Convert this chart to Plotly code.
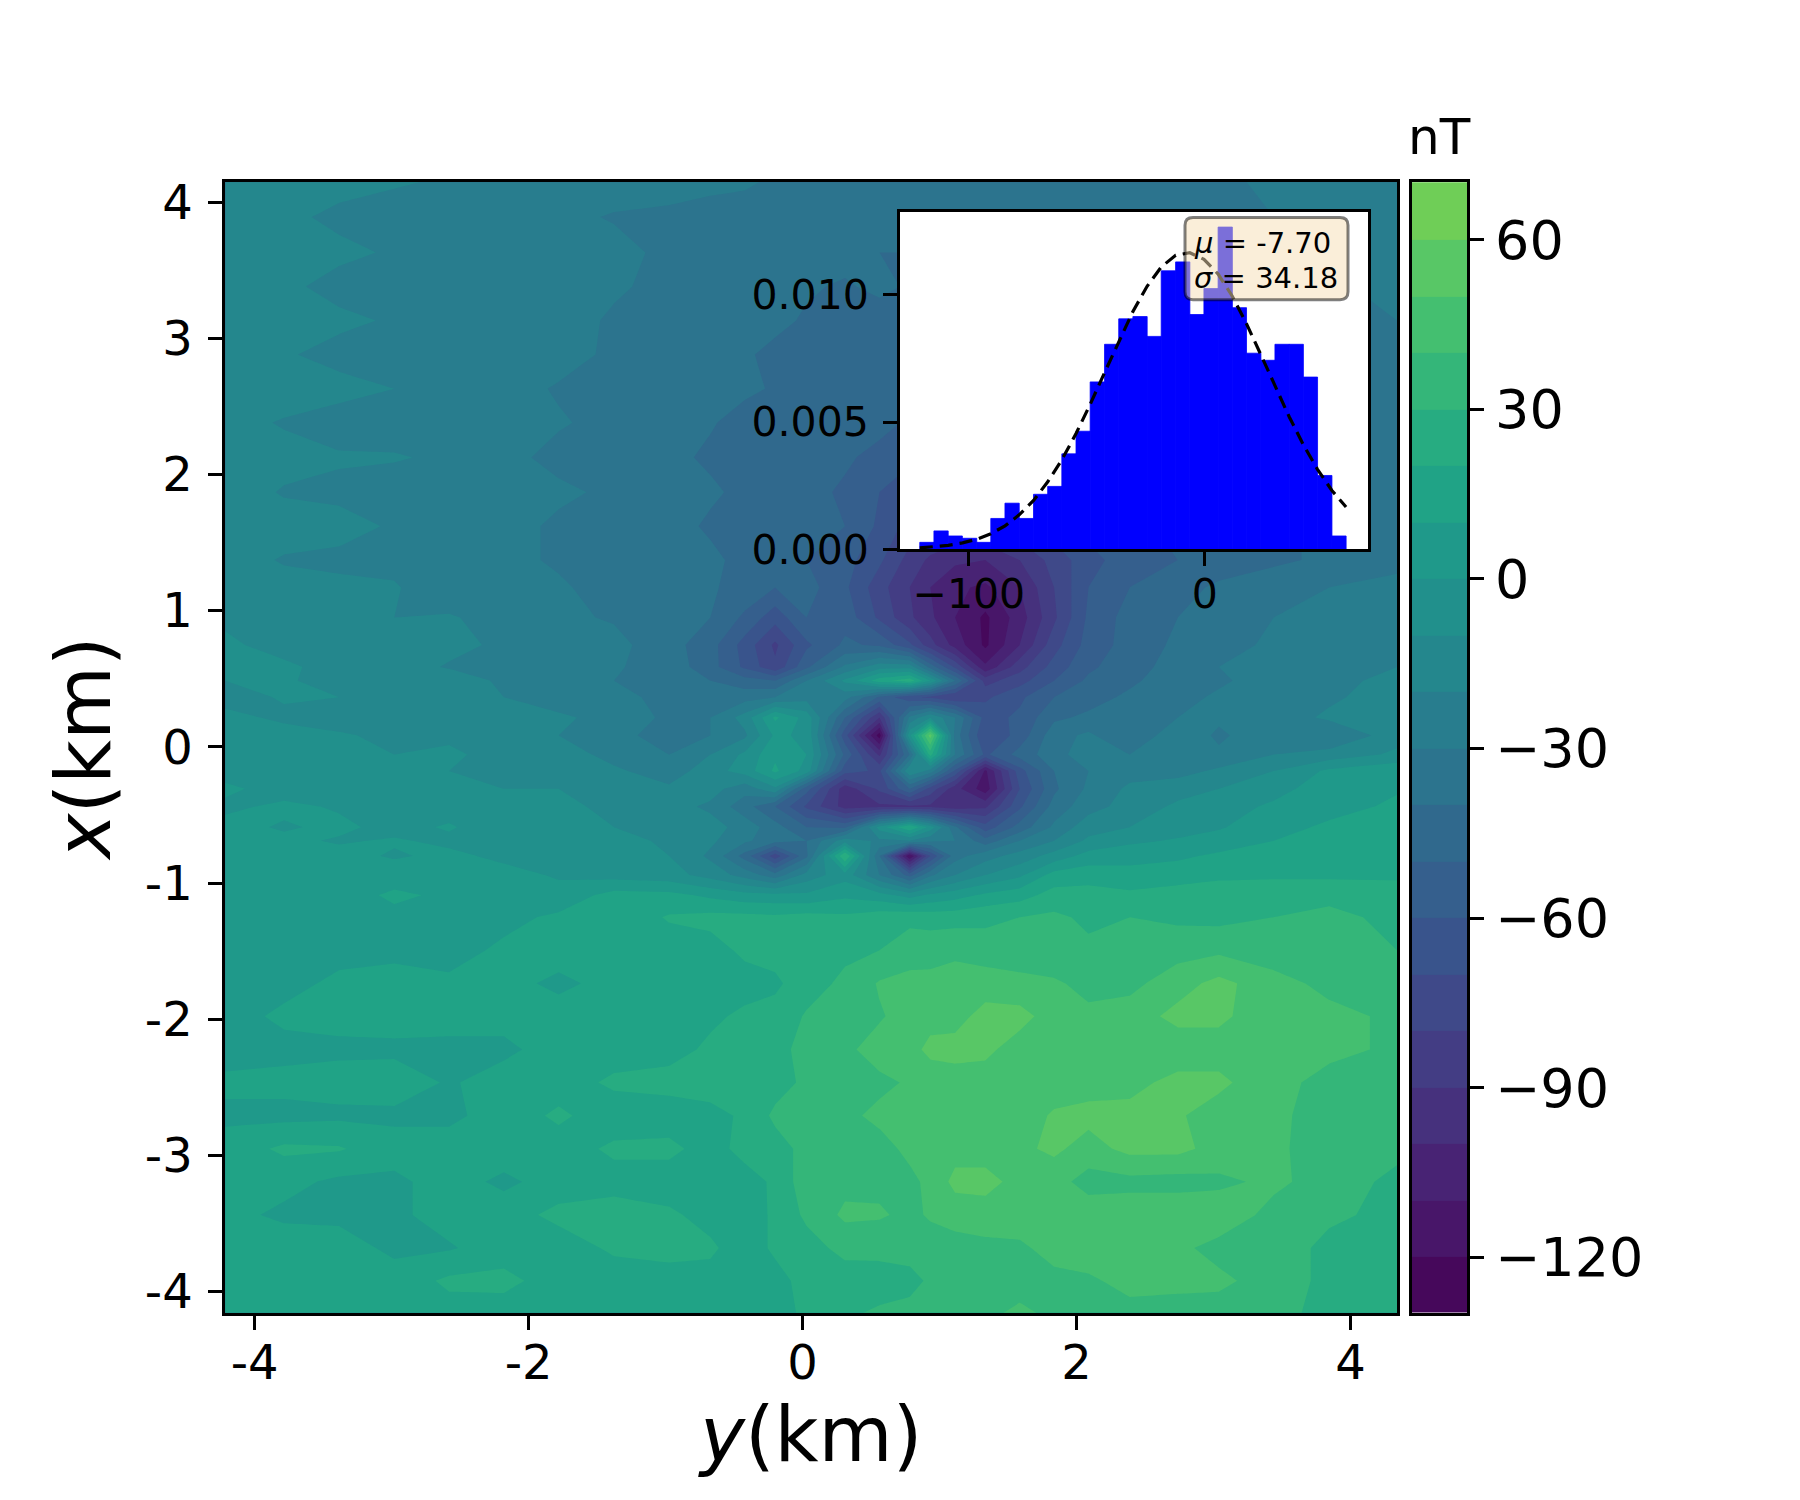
import numpy as np
import plotly.graph_objects as go

W, H = 1800, 1500
FONT = "DejaVu Sans"

# Map grid (km)
y_km = [-4.214,-3.785,-3.384,-2.98,-2.58,-2.18,-1.78,-1.376,-0.974,-0.673,-0.422,-0.2,0.03,0.31,0.562,0.783,0.933,1.114,1.335,1.586,1.837,2.088,2.389,2.74,3.04,3.44,3.845,4.34]
x_km = [4.15,3.89,3.63,3.38,3.13,2.88,2.63,2.38,2.125,1.87,1.62,1.371,1.17,0.949,0.748,0.587,0.486,0.365,0.215,0.084,-0.057,-0.177,-0.308,-0.439,-0.59,-0.69,-0.801,-0.942,-1.09,-1.251,-1.494,-1.737,-1.979,-2.223,-2.465,-2.708,-2.951,-3.193,-3.437,-3.68,-3.921,-4.16]
# Field in nT, one row per x_km value
field_nT = [
[-12,-13,-17,-19,-21,-22,-22,-24,-26,-28,-29,-31,-32,-33,-34,-36,-36,-35,-33,-32,-32,-31,-30,-32,-31,-29,-27,-26],
[-14,-18,-22,-24,-26,-28,-27,-31,-32,-33,-33,-34,-35,-36,-37,-38,-38,-38,-37,-37,-36,-35,-34,-33,-32,-30,-28,-27],
[-13,-16,-18,-21,-22,-24,-28,-26,-33,-34,-35,-36,-38,-37,-40,-40,-41,-42,-42,-41,-40,-39,-38,-36,-34,-32,-31,-29],
[-14,-18,-23,-25,-27,-28,-25,-29,-32,-33,-37,-38,-39,-41,-38,-41,-42,-44,-44,-43,-42,-40,-39,-37,-36,-33,-31,-28],
[-12,-15,-18,-21,-23,-24,-27,-31,-33,-34,-36,-38,-41,-42,-44,-44,-45,-46,-46,-45,-44,-42,-40,-39,-37,-34,-33,-30],
[-15,-19,-23,-24,-26,-27,-26,-32,-32,-37,-39,-42,-42,-46,-43,-46,-46,-48,-48,-47,-46,-44,-42,-40,-38,-36,-34,-31],
[-11,-14,-17,-20,-23,-26,-31,-30,-36,-36,-38,-41,-44,-43,-47,-48,-50,-52,-52,-50,-48,-46,-44,-42,-40,-37,-35,-32],
[-16,-21,-24,-26,-27,-29,-29,-33,-33,-39,-44,-45,-43,-50,-46,-52,-54,-56,-56,-54,-50,-48,-46,-44,-41,-38,-36,-33],
[-13,-16,-19,-19,-22,-27,-33,-33,-37,-42,-42,-42,-47,-48,-54,-58,-60,-60,-60,-58,-54,-50,-48,-45,-42,-39,-37,-34],
[-14,-21,-22,-26,-27,-29,-28,-32,-36,-38,-43,-46,-46,-52,-60,-66,-68,-68,-66,-62,-58,-54,-50,-46,-43,-40,-38,-35],
[-12,-15,-17,-21,-24,-26,-32,-35,-35,-42,-44,-46,-48,-50,-62,-74,-78,-80,-78,-72,-64,-56,-52,-48,-44,-41,-39,-36],
[-15,-21,-22,-23,-25,-28,-31,-32,-38,-37,-44,-47,-50,-56,-68,-84,-92,-98,-100,-90,-76,-64,-54,-50,-46,-42,-38,-34],
[-14,-16,-18,-19,-27,-26,-29,-33,-36,-39,-43,-50,-46,-58,-76,-90,-100,-108,-112,-100,-80,-60,-50,-44,-38,-34,-30,-26],
[-11,-13,-16,-20,-19,-24,-28,-31,-33,-40,-52,-66,-50,-54,-72,-88,-98,-110,-122,-105,-82,-58,-46,-40,-34,-30,-28,-24],
[-9,-12,-18,-14,-17,-22,-28,-27,-36,-46,-64,-82,-62,-48,-52,-68,-86,-104,-122,-100,-74,-56,-46,-38,-32,-29,-26,-22],
[-8,-9,-12,-15,-21,-21,-25,-29,-34,-46,-62,-78,-52,-28,-14,-14,-44,-72,-108,-84,-66,-52,-44,-36,-30,-26,-24,-20],
[-10,-8,-16,-16,-14,-22,-22,-30,-30,-40,-46,-50,-30,-8,16,26,0,-40,-84,-74,-60,-48,-42,-34,-32,-24,-22,-18],
[-14,-9,-10,-16,-18,-20,-26,-28,-32,-38,-34,-30,-24,-26,-52,-68,-72,-80,-72,-62,-50,-44,-38,-34,-28,-26,-22,-14],
[-7,-12,-14,-12,-14,-16,-18,-24,-32,-30,-16,12,-4,-50,-90,-28,-10,-30,-64,-58,-42,-38,-34,-30,-28,-26,-18,-18],
[-8,-6,-9,-12,-12,-18,-20,-24,-38,-30,-22,2,-2,-66,-125,-2,55,-34,-70,-56,-34,-28,-40,-22,-32,-22,-30,-14],
[-2,-8,-4,-10,-8,-14,-14,-24,-30,-20,-8,8,0,-52,-92,-40,24,-30,-62,-46,-34,-24,-30,-20,-28,-20,-16,-8],
[-4,-2,-7,-4,-10,-10,-18,-18,-26,-14,-6,12,-4,-66,-72,-10,-24,-62,-112,-64,-40,-30,-24,-24,-18,-10,2,8],
[2,-4,-2,-8,-6,-10,-10,-16,-18,-16,-26,-12,-56,-96,-78,-50,-74,-96,-116,-70,-42,-28,-18,-14,-10,-4,6,9],
[-2,2,-1,-6,-4,-8,-8,-12,-16,-22,-36,-50,-72,-94,-92,-92,-92,-96,-92,-62,-36,-24,-16,-8,-5,2,6,12],
[3,-1,2,-3,1,-6,-4,-10,-12,-16,-24,-36,-50,-52,-6,20,-4,-38,-66,-46,-28,-14,-10,-4,-1,6,12,14],
[1,2,-1,1,-2,-4,-6,-6,-12,-18,-28,-36,-40,-14,-22,-20,-28,-30,-46,-30,-20,-8,-2,1,4,10,13,15],
[4,1,3,-1,2,-2,-4,-8,-10,-22,-44,-76,-42,30,-40,-120,-70,-34,-24,-16,-6,4,6,8,12,14,15,16],
[2,5,2,5,1,3,-1,-4,-6,-14,-24,-36,-16,-4,-30,-54,-32,-20,-10,-2,14,16,14,16,17,18,18,18],
[6,7,5,12,8,6,3,14,13,8,4,3,2,8,4,-4,2,6,12,16,24,24,22,24,28,28,28,26],
[6,8,8,7,9,7,12,13,21,23,23,22,24,22,26,28,26,26,28,30,32,28,30,28,27,30,32,28],
[6,7,7,8,6,12,14,13,15,16,22,24,26,28,30,34,36,38,34,32,30,32,34,36,38,34,32,30],
[6,7,12,13,12,13,8,13,14,13,16,18,26,32,41,44,43,44,46,44,42,36,37,46,53,44,37,34],
[6,12,13,14,13,13,14,14,12,18,22,24,31,34,39,44,46,47,53,53,46,43,45,53,52,44,43,38],
[6,7,8,8,8,8,14,15,16,22,24,26,34,38,44,46,53,53,52,46,44,44,46,44,46,44,43,38],
[12,13,14,15,9,14,15,22,24,26,28,26,32,36,38,41,43,46,46,46,46,46,47,53,52,44,36,33],
[8,7,8,8,8,14,22,14,14,16,22,32,36,38,42,44,44,44,45,46,51,53,53,51,46,42,36,34],
[14,22,21,14,14,15,15,22,23,15,24,26,33,34,37,42,44,46,46,48,52,46,53,53,46,42,35,33],
[12,13,8,8,14,8,14,16,14,14,15,22,36,37,38,38,42,53,53,47,44,36,37,36,38,42,36,27],
[13,8,8,8,14,15,23,25,22,16,14,22,32,42,41,38,41,44,46,46,46,46,46,48,46,37,32,27],
[14,16,14,8,9,15,14,22,24,22,14,22,26,33,34,35,36,36,37,38,44,47,49,42,37,36,27,26],
[13,14,16,14,22,23,15,14,15,16,14,16,24,25,24,26,32,34,36,36,37,38,44,44,42,36,27,26],
[13,13,14,15,16,15,14,15,16,15,16,16,22,28,32,34,36,34,38,42,38,36,36,34,36,32,28,26],
]

# Tick labels
map_y_ticks = [-4,-2,0,2,4]
map_y_labels = ["-4","-2","0","2","4"]
map_x_ticks = [-4,-3,-2,-1,0,1,2,3,4]
map_x_labels = ["-4","-3","-2","-1","0","1","2","3","4"]
cbar_ticks = [-120,-90,-60,-30,0,30,60]
cbar_labels = ["\u2212120","\u221290","\u221260","\u221230","0","30","60"]
hist_y_ticks = [0,0.005,0.01]
hist_y_labels = ["0.000","0.005","0.010"]
hist_x_ticks = [-100,0]
hist_x_labels = ["\u2212100","0"]

# Histogram
hist_centers = [-117.8,-111.8,-105.8,-99.7,-93.7,-87.7,-81.7,-75.7,-69.6,-63.6,-57.6,-51.6,-45.6,-39.5,-33.5,-27.5,-21.5,-15.5,-9.4,-3.4,2.6,8.6,14.6,20.7,26.7,32.7,38.7,44.7,50.8,56.8]
hist_density = [0.00027,0.00072,0.00052,0.00043,0.00027,0.00121,0.00181,0.00121,0.00216,0.00247,0.00375,0.00464,0.00658,0.00806,0.00906,0.00915,0.00837,0.01095,0.0113,0.00923,0.01025,0.01267,0.0095,0.00771,0.00743,0.00806,0.00806,0.00677,0.0029,0.00052]
curve_x = [-120.8,-114.8,-108.8,-102.7,-96.7,-90.7,-84.7,-78.7,-72.6,-66.6,-60.6,-54.6,-48.6,-42.5,-36.5,-30.5,-24.5,-18.5,-12.4,-6.4,-0.4,5.6,11.6,17.6,23.7,29.7,35.7,41.7,47.7,53.8,59.8]
curve_y = [0.00005,0.00009,0.00015,0.00025,0.00039,0.00061,0.00092,0.00135,0.00192,0.00265,0.00352,0.00455,0.0057,0.00695,0.00818,0.00935,0.01034,0.0111,0.01156,0.01166,0.0114,0.01082,0.00995,0.00887,0.00765,0.00641,0.00521,0.00411,0.00314,0.00231,0.00166]

# Colour bands
band_edges = [-140,-120,-110,-100,-90,-80,-70,-60,-50,-40,-30,-20,-10,0,10,20,30,40,50,60,80]
band_mids = list(range(-125, 66, 10))
viridis20 = ["#440154","#481467","#482576","#453781","#404688","#39558c","#33638d","#2d718e","#287d8e","#238a8d","#1f968b","#20a386","#29af7f","#3dbc74","#56c667","#75d054","#95d840","#bade28","#dde318","#fde725"]
vrgb = np.array([[int(c[i:i+2], 16) for i in (1,3,5)] for c in viridis20], float)
def band_color(m):
    t = (m + 130) / 250 * 19
    rgb = [np.interp(t, np.arange(20), vrgb[:, k]) for k in range(3)]
    return "rgb(%d,%d,%d)" % tuple(round(v) for v in rgb)
cscale = [[(m + 125) / 190, band_color(m)] for m in band_mids]

def px(v): return v / W
def py(v): return 1 - v / H

axis_common = dict(showline=True, linecolor="black", linewidth=3, mirror=True, ticks="outside",
                   tickcolor="black", tickwidth=3, ticklen=14, showgrid=False, zeroline=False)

fig = go.Figure()
fig.add_trace(go.Contour(x=y_km, y=x_km[::-1], z=field_nT[::-1], xaxis="x", yaxis="y",
    colorscale=cscale, zmin=-125, zmax=65, autocontour=False, showscale=False,
    contours=dict(start=-120, end=60, size=10, coloring="fill", showlines=False),
    line=dict(width=0, smoothing=0), hoverinfo="skip"))
fig.add_trace(go.Bar(x=hist_centers, y=hist_density, width=6.05, xaxis="x2", yaxis="y2",
    marker=dict(color="#0000ff", line=dict(width=0.8, color="#0000ff")), showlegend=False))
fig.add_trace(go.Scatter(x=curve_x, y=curve_y, mode="lines", xaxis="x2", yaxis="y2",
    line=dict(color="black", width=3.2, dash="13px,7px"), showlegend=False))
fig.add_trace(go.Heatmap(x=[0, 1], y=band_edges, z=[[m] for m in band_mids], xaxis="x3", yaxis="y3",
    colorscale=cscale, zmin=-125, zmax=65, showscale=False, hoverinfo="skip"))

bx0, bx1, by0, by1, r = 1185, 1348, 214, 298, 8
box = (f"M {px(bx0+r)} {py(by0)} L {px(bx1-r)} {py(by0)} Q {px(bx1)} {py(by0)} {px(bx1)} {py(by0+r)} "
       f"L {px(bx1)} {py(by1-r)} Q {px(bx1)} {py(by1)} {px(bx1-r)} {py(by1)} L {px(bx0+r)} {py(by1)} "
       f"Q {px(bx0)} {py(by1)} {px(bx0)} {py(by1-r)} L {px(bx0)} {py(by0+r)} Q {px(bx0)} {py(by0)} {px(bx0+r)} {py(by0)} Z")

fig.update_layout(
    width=W, height=H, margin=dict(l=0, r=0, t=0, b=0), paper_bgcolor="white", plot_bgcolor="white",
    font=dict(family=FONT, color="black"), showlegend=False, barmode="overlay",
    xaxis=dict(domain=[px(225.3), px(1397)], range=[-4.214, 4.34], tickvals=map_y_ticks, ticktext=map_y_labels,
               tickfont=dict(size=48), ticklabelstandoff=-8,
               title=dict(text="<i>y</i>(km)", font=dict(size=76), standoff=10), anchor="y", **axis_common),
    yaxis=dict(domain=[py(1333), py(178)], range=[-4.154, 4.146], tickvals=map_x_ticks, ticktext=map_x_labels,
               tickfont=dict(size=48), ticklabelstandoff=6,
               title=dict(text="<i>x</i>(km)", font=dict(size=76), standoff=10), anchor="x", **axis_common),
    xaxis2=dict(domain=[px(900), px(1368)], range=[-129.2, 69.1], tickvals=hist_x_ticks, ticktext=hist_x_labels,
                tickfont=dict(size=41), ticklabelstandoff=-7, anchor="y2", **axis_common),
    yaxis2=dict(domain=[py(553), py(208)], range=[0, 0.01328], tickvals=hist_y_ticks, ticktext=hist_y_labels,
                tickfont=dict(size=41), ticklabelstandoff=6, anchor="x2", **axis_common),
    xaxis3=dict(domain=[px(1411.7), px(1467.3)], range=[0, 1], showticklabels=False, ticks="", showline=True,
                linecolor="black", linewidth=3, mirror=True, showgrid=False, zeroline=False, anchor="y3"),
    yaxis3=dict(domain=[py(1333), py(178)], range=[-129.8, 70.2], tickvals=cbar_ticks, ticktext=cbar_labels, side="right",
                tickfont=dict(size=54), anchor="x3", **axis_common),
    shapes=[
        dict(type="rect", xref="x2", yref="y2", x0=-129.2, x1=69.1, y0=0, y1=0.01328, layer="below",
             fillcolor="white", line=dict(width=0)),
        dict(type="path", xref="paper", yref="paper", path=box, layer="above",
             fillcolor="rgba(245,222,179,0.5)", line=dict(color="rgba(0,0,0,0.5)", width=3)),
    ],
    annotations=[
        dict(xref="paper", yref="paper", x=px(1192), y=py(240), xanchor="left", yanchor="middle", align="left",
             showarrow=False, text="<i>\u03bc</i> = -7.70", font=dict(size=29, family=FONT, color="black")),
        dict(xref="paper", yref="paper", x=px(1192), y=py(276), xanchor="left", yanchor="middle", align="left",
             showarrow=False, text="<i>\u03c3</i> = 34.18", font=dict(size=29, family=FONT, color="black")),
        dict(xref="paper", yref="paper", x=px(1439), y=py(132), xanchor="center", yanchor="middle",
             showarrow=False, text="nT", font=dict(size=50, family=FONT, color="black")),
    ],
)
fig.write_html("out.html", post_script="document.body.style.margin='0';", config={"displayModeBar": False})
